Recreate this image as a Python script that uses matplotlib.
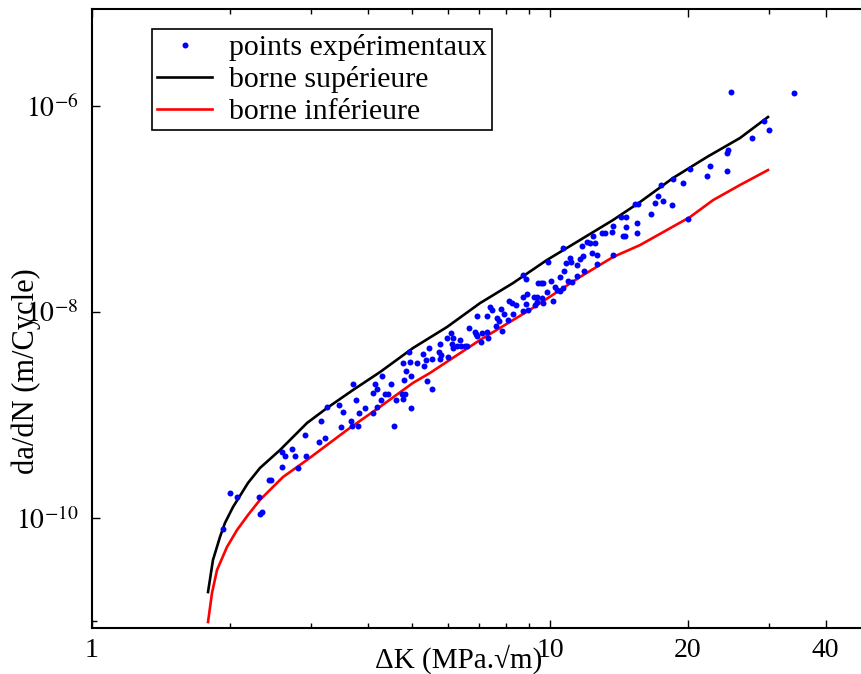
import matplotlib
matplotlib.use("Agg")
import matplotlib.pyplot as plt
import numpy as np

plt.rcParams['font.family'] = ['Liberation Serif', 'DejaVu Serif']
plt.rcParams['mathtext.fontset'] = 'stix'

# ---------------- data ----------------
dk_pts = [
    2.00, 2.07, 1.93, 2.32, 2.33, 2.35, 2.44, 2.46, 2.60, 2.60, 2.64, 2.73, 2.78, 2.82,
    2.93, 2.92, 3.13, 3.16, 3.23, 3.26, 3.46, 3.50, 3.53, 3.68, 3.70, 3.72, 3.77, 3.81,
    3.83, 3.95, 4.11, 4.11, 4.15, 4.19, 4.19,
    4.28, 4.30, 4.36, 4.43, 4.50, 4.56, 4.61, 4.75, 4.82, 4.77, 4.80, 4.78, 4.85, 4.95,
    4.97, 4.97, 4.92, 5.12, 5.28, 5.31, 5.36, 5.39, 5.53, 5.44, 5.53, 5.72, 5.78, 5.75,
    5.75, 5.96, 5.99, 6.08, 6.11, 6.14, 6.14, 6.27, 6.36, 6.39,
    6.52, 6.59, 6.65, 6.86, 6.89, 6.93, 7.07, 7.11, 7.29, 7.32, 6.93, 7.29, 7.40, 7.47,
    7.66, 7.62, 7.74, 7.82, 7.86, 7.94, 8.10, 8.14, 8.26, 8.30, 8.43, 8.73, 8.86, 8.73,
    8.86, 8.95, 8.73, 8.91, 9.23, 9.37, 9.28, 9.37, 9.42,
    9.56, 9.65, 9.61, 9.65, 9.85, 9.90, 10.05, 10.15, 10.25, 10.36, 10.51, 10.51, 10.68,
    10.68, 10.73, 10.84, 10.95, 11.06, 11.11, 11.17, 11.45, 11.45, 11.63, 11.75, 11.81,
    11.86, 12.04, 12.23, 12.35, 12.54, 12.66, 12.66, 12.41, 12.98, 13.18, 13.73, 13.66,
    13.73, 14.29, 14.65, 14.65, 14.43, 14.58, 15.49, 15.49, 15.33, 15.57,
    16.62, 16.96, 17.21, 17.65, 17.47, 18.47, 18.56, 19.52, 20.22, 20.01, 22.02, 22.35,
    24.35, 24.35, 24.47, 27.61, 29.33, 30.08, 24.85, 34.10,
]
dadn_pts = [
    1.75e-10, 1.60e-10, 7.82e-11, 1.60e-10, 1.09e-10, 1.14e-10, 2.34e-10, 2.34e-10,
    4.38e-10, 3.13e-10, 4.00e-10, 4.68e-10, 4.00e-10, 3.06e-10,
    4.00e-10, 6.40e-10, 5.47e-10, 8.75e-10, 5.98e-10, 1.20e-9, 1.25e-9, 7.64e-10, 1.07e-9,
    8.75e-10, 7.82e-10, 2.00e-9, 1.40e-9, 7.82e-10,
    1.05e-9, 1.17e-9, 1.05e-9, 1.64e-9, 2.00e-9, 1.79e-9, 1.20e-9,
    1.40e-9, 2.39e-9, 1.60e-9, 1.60e-9, 2.00e-9, 7.82e-10, 1.40e-9, 1.60e-9, 1.60e-9,
    1.43e-9, 2.19e-9, 3.20e-9, 2.67e-9, 3.27e-9,
    2.39e-9, 1.17e-9, 4.09e-9, 3.20e-9, 3.91e-9, 2.99e-9, 3.42e-9, 2.14e-9, 1.79e-9,
    4.47e-9, 3.50e-9, 4.09e-9, 3.83e-9, 4.89e-9,
    3.50e-9, 5.60e-9, 3.66e-9, 6.25e-9, 4.89e-9, 5.60e-9, 4.47e-9, 4.68e-9, 5.35e-9, 4.68e-9,
    4.68e-9, 4.68e-9, 7.00e-9, 6.40e-9, 6.11e-9, 5.85e-9, 5.12e-9, 6.25e-9, 6.40e-9,
    5.60e-9, 9.15e-9, 9.15e-9, 1.12e-8, 1.05e-8,
    8.75e-9, 7.31e-9, 8.18e-9, 1.07e-8, 6.55e-9, 9.57e-9, 8.36e-9, 1.28e-8, 1.22e-8,
    9.57e-9, 1.17e-8, 2.29e-8, 2.09e-8, 1.40e-8,
    1.20e-8, 1.05e-8, 1.02e-8, 1.50e-8, 1.40e-8, 1.40e-8, 1.17e-8, 1.25e-8, 1.91e-8,
    1.91e-8, 1.91e-8, 1.37e-8, 1.22e-8, 1.56e-8, 3.05e-8, 2.00e-8, 1.28e-8, 1.75e-8,
    1.64e-8, 1.60e-8, 2.19e-8, 1.71e-8,
    4.18e-8, 2.50e-8, 2.99e-8, 2.00e-8, 3.34e-8, 3.05e-8, 1.95e-8, 2.24e-8, 2.86e-8,
    3.27e-8, 4.38e-8, 3.50e-8,
    2.50e-8, 4.79e-8, 4.68e-8, 3.74e-8, 4.68e-8, 3.57e-8, 2.92e-8, 5.47e-8, 5.85e-8,
    5.85e-8, 6.84e-8, 5.98e-8,
    3.57e-8, 8.36e-8, 8.36e-8, 6.68e-8, 5.47e-8, 5.47e-8, 5.85e-8, 7.31e-8, 1.12e-7, 1.12e-7,
    8.93e-8, 1.14e-7, 1.34e-7, 1.20e-7, 1.71e-7, 1.09e-7, 1.95e-7, 1.79e-7, 2.44e-7,
    8.00e-8, 2.09e-7, 2.61e-7,
    2.34e-7, 3.50e-7, 3.74e-7, 4.89e-7, 7.15e-7, 5.85e-7, 1.37e-6, 1.34e-6,
]

dk_upper = [1.792, 1.837, 1.903, 1.951, 2.032, 2.191, 2.327, 2.573, 2.947, 3.260, 3.715,
            4.254, 5.022, 5.958, 7.035, 8.304, 9.85, 11.63, 13.73, 15.73, 18.56, 22.02,
            25.99, 29.92]
dadn_upper = [1.91e-11, 3.91e-11, 6.54e-11, 8.94e-11, 1.28e-10, 2.19e-10, 3.06e-10,
              4.57e-10, 8.36e-10, 1.17e-9, 1.75e-9, 2.61e-9, 4.47e-9, 7.15e-9, 1.22e-8,
              1.91e-8, 3.20e-8, 5.00e-8, 7.82e-8, 1.17e-7, 2.00e-7, 3.20e-7, 4.89e-7,
              7.82e-7]

dk_lower = [1.792, 1.828, 1.875, 1.971, 2.073, 2.191, 2.327, 2.612, 2.947, 3.604, 4.254,
            5.022, 5.470, 7.035, 9.04, 11.63, 13.73, 15.73, 20.22, 22.70, 25.99, 29.92]
dadn_lower = [9.77e-12, 1.87e-11, 3.13e-11, 5.23e-11, 7.64e-11, 1.07e-10, 1.50e-10,
              2.50e-10, 3.66e-10, 7.15e-10, 1.20e-9, 2.05e-9, 2.56e-9, 5.35e-9, 1.05e-8,
              2.19e-8, 3.42e-8, 4.47e-8, 8.36e-8, 1.22e-7, 1.71e-7, 2.39e-7]

x_major = [1, 10, 20, 40]
x_major_labels = ['1', '10', '20', '40']
x_minor = [2, 3, 4, 5, 6, 7, 8, 9, 30]
y_major = [1e-10, 1e-8, 1e-6]
y_major_labels = [r'$10^{-10}$', r'$10^{-8}$', r'$10^{-6}$']
y_minor = [1e-11]

# ---------------- figure ----------------
W, H = 861, 674
fig = plt.figure(figsize=(W / 100, H / 100), dpi=100)
ax = fig.add_axes([92 / W, (H - 628) / H, (W - 92) / W, (628 - 9) / H])

ax.plot(dk_pts, dadn_pts, linestyle='none', marker='o', ms=4.3, color='#0000ff',
        markeredgewidth=0, label='points expérimentaux', zorder=3)
ax.plot(dk_upper, dadn_upper, color='black', lw=1.9, label='borne supérieure')
ax.plot(dk_lower, dadn_lower, color='#ff0000', lw=1.9, label='borne inférieure')

ax.set_xscale('log')
ax.set_yscale('log')
ax.set_xlim(1, 10 ** ((W - 92) / 458))
ax.set_ylim(10 ** -11.068, 10 ** -5.058)

ax.set_xticks(x_major)
ax.set_xticklabels(x_major_labels)
ax.set_xticks(x_minor, minor=True)
ax.xaxis.set_minor_formatter(matplotlib.ticker.NullFormatter())
ax.set_yticks(y_major)
ax.set_yticklabels(y_major_labels)
ax.set_yticks(y_minor, minor=True)
ax.yaxis.set_minor_formatter(matplotlib.ticker.NullFormatter())

ax.tick_params(axis='both', which='major', direction='in', length=6, width=1.0,
               labelsize=20, top=True, right=False)
ax.tick_params(axis='both', which='minor', direction='in', length=3.5, width=1.0,
               top=True, right=False)
ax.tick_params(axis='x', which='major', pad=7)
ax.tick_params(axis='y', which='major', pad=10)

for s in ['left', 'bottom', 'top']:
    ax.spines[s].set_linewidth(1.5)
ax.spines['right'].set_visible(False)

fig.text(459 / W, (H - 659) / H, 'ΔK (MPa.√m)', ha='center', va='center', fontsize=21)
fig.text(26 / W, (H - 371) / H, 'da/dN (m/Cycle)', ha='center', va='center',
         rotation=90, fontsize=22)

leg = ax.legend(loc='upper left', bbox_to_anchor=((152 - 92) / (W - 92), (628 - 29) / (628 - 9)),
                borderaxespad=0, fontsize=21.5, frameon=True, fancybox=False,
                edgecolor='black', framealpha=1, numpoints=1, handlelength=1.85,
                handletextpad=0.55, labelspacing=0.17, borderpad=0.17)
leg.get_frame().set_linewidth(1.2)

fig.savefig('out.png', dpi=100)
